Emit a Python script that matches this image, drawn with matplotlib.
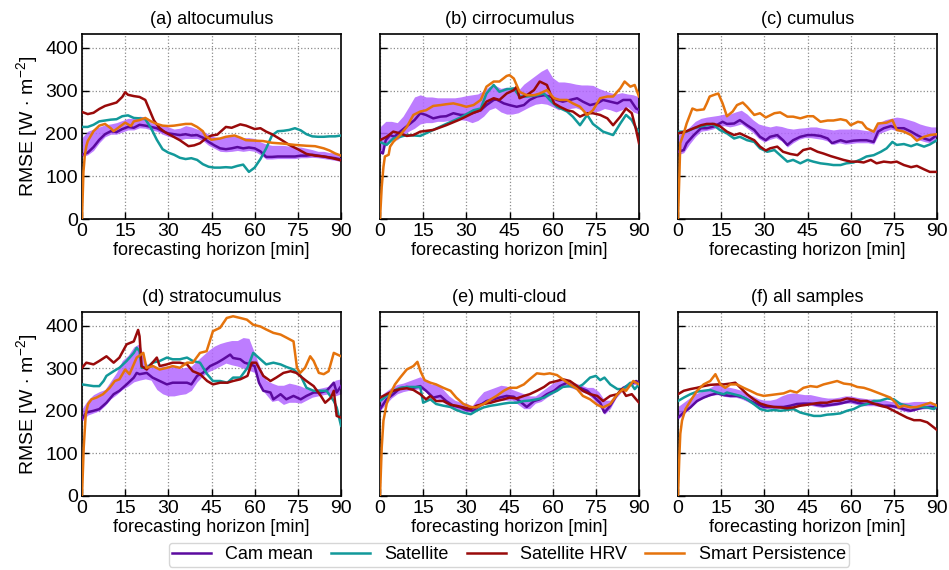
import numpy as np
import matplotlib
matplotlib.use("Agg")
import matplotlib.pyplot as plt
from matplotlib.lines import Line2D

plt.rcParams['font.family'] = ['Liberation Sans', 'DejaVu Sans']
plt.rcParams['mathtext.fontset'] = 'custom'
plt.rcParams['mathtext.rm'] = 'Liberation Sans'
plt.rcParams['mathtext.it'] = 'Liberation Sans:italic'

# ---------------------------------------------------------------- data (RMSE in W m^-2, horizon in minutes)
series_labels = ["Cam mean", "Satellite", "Satellite HRV", "Smart Persistence"]
panel_titles = ["(a) altocumulus", "(b) cirrocumulus", "(c) cumulus",
                "(d) stratocumulus", "(e) multi-cloud", "(f) all samples"]
x_ticks = [0, 15, 30, 45, 60, 75, 90]
y_ticks = [0, 100, 200, 300, 400]

# horizons of the camera-ensemble spread (min / max of the camera models)
band_t = [0, 2, 4, 6, 8, 10, 12, 14, 16, 18, 20, 22, 24, 26, 28, 30, 32, 34, 36, 38, 40, 42, 44,
          46, 48, 50, 52, 54, 56, 58, 60, 62, 64, 66, 68, 70, 72, 74, 76, 78, 80, 82, 84, 86, 88, 90]

# (a) altocumulus
alto_cam_t = band_t
alto_cam = [150, 155, 168, 185, 198, 205, 203, 210, 215, 213, 220, 218, 215, 212, 205, 200, 198, 196, 198, 195,
            196, 190, 180, 172, 165, 163, 165, 168, 165, 167, 165, 158, 145, 145, 146, 146, 146, 146, 148, 148,
            150, 148, 146, 144, 142, 139]
alto_lo = [145, 150, 160, 178, 192, 198, 198, 203, 208, 208, 213, 212, 208, 205, 198, 193, 190, 185, 188, 188,
           188, 183, 172, 165, 158, 157, 158, 160, 158, 160, 158, 150, 140, 140, 141, 141, 141, 141, 143, 143,
           144, 143, 141, 139, 137, 134]
alto_hi = [190, 205, 210, 215, 220, 222, 225, 230, 235, 235, 240, 238, 225, 222, 220, 215, 210, 212, 218, 215,
           210, 205, 198, 192, 190, 195, 195, 193, 190, 190, 188, 180, 175, 172, 172, 172, 170, 168, 168, 165,
           162, 158, 158, 155, 155, 150]
alto_sat_t = band_t
alto_sat = [215, 215, 220, 228, 230, 232, 233, 240, 242, 236, 235, 233, 212, 185, 163, 155, 150, 143, 140, 142,
            138, 128, 122, 120, 120, 121, 120, 124, 127, 110, 120, 140, 165, 195, 205, 206, 208, 212, 207, 198,
            193, 192, 192, 193, 193, 195]
alto_hrv_t = [0, 2, 4, 6, 8, 10, 12, 14, 15, 16, 18, 20, 22, 23, 25, 27, 29, 31, 34, 37, 39, 41, 43, 45, 47,
              50, 52, 55, 57, 60, 62, 64, 66, 69, 72, 75, 78, 81, 84, 87, 90]
alto_hrv = [250, 245, 248, 257, 264, 268, 272, 285, 296, 290, 287, 285, 278, 262, 230, 212, 202, 195, 184, 170,
            172, 177, 188, 195, 197, 215, 213, 221, 218, 210, 212, 204, 198, 186, 173, 163, 152, 148, 146, 142, 137]
alto_sp_t = [0, 0.5, 1, 1.5, 2, 4, 6, 8, 10, 11, 13, 15, 17, 18, 20, 22, 24, 26, 28, 30, 32, 34, 36, 38, 40,
             42, 43, 45, 48, 50, 53, 55, 57, 60, 63, 66, 70, 74, 78, 81, 84, 86, 88, 90]
alto_sp = [0, 110, 150, 170, 182, 205, 218, 222, 212, 205, 215, 225, 217, 228, 231, 236, 228, 222, 218, 217,
           218, 220, 222, 222, 215, 205, 193, 185, 188, 192, 195, 190, 184, 183, 182, 178, 176, 173, 171, 170,
           165, 160, 153, 148]

# (b) cirrocumulus
cirro_cam_t = [0, 1, 2, 3.5, 5, 7, 9, 12, 14, 16, 18.5, 21, 23, 25.5, 28, 30, 32.5, 35, 37, 39.5, 40.5, 43, 45,
               47.5, 50, 52, 54.5, 57, 59, 61.5, 63.5, 66, 68.5, 70.5, 73, 75.5, 77.5, 80, 82.5, 84.5, 87, 89, 90]
cirro_cam = [157, 153, 184, 196, 192, 204, 215, 231, 247, 243, 235, 239, 240, 247, 243, 243, 248, 254, 266, 278,
             279, 270, 266, 262, 266, 278, 286, 289, 286, 278, 274, 278, 282, 274, 266, 270, 278, 274, 270, 278,
             278, 258, 255]
cirro_lo = [150, 175, 185, 185, 195, 205, 212, 222, 225, 225, 228, 228, 230, 232, 232, 230, 225, 230, 240, 255,
            260, 250, 245, 245, 248, 255, 262, 268, 270, 268, 262, 255, 258, 258, 260, 255, 250, 250, 252, 258,
            255, 250, 255, 262, 250, 245]
cirro_hi = [215, 228, 228, 225, 240, 262, 285, 290, 285, 285, 283, 283, 283, 283, 285, 288, 290, 292, 300, 310,
            312, 305, 308, 305, 300, 315, 325, 335, 345, 352, 330, 320, 320, 318, 315, 313, 313, 312, 305, 300,
            295, 292, 295, 292, 290, 285]
cirro_sat_t = [0, 2.3, 4.6, 9.3, 14, 18.5, 23, 28, 32.5, 35, 37, 39.5, 41.5, 44, 46.5, 48.5, 51, 54.5, 57, 59,
               61.5, 65, 67, 69.5, 72, 74, 77.5, 81, 83.5, 85.5, 87.5, 89, 90]
cirro_sat = [180, 173, 188, 196, 194, 208, 222, 237, 254, 258, 293, 313, 297, 303, 305, 286, 286, 289, 293, 278,
             262, 251, 239, 219, 243, 222, 204, 196, 223, 243, 231, 212, 205]
cirro_hrv_t = [0, 2.3, 4.6, 7, 9.3, 11.6, 14, 18.5, 23, 28, 32.5, 35, 37, 39.5, 41.5, 44, 46.5, 47.5, 48.5, 51,
               53.5, 55.5, 58, 60.5, 62.5, 65, 67, 69.5, 72, 74, 76.5, 79, 81, 83.5, 85.5, 87.5, 89, 90]
cirro_hrv = [184, 192, 204, 200, 194, 196, 204, 208, 219, 233, 248, 254, 274, 282, 278, 293, 301, 309, 282, 289,
             301, 321, 313, 270, 262, 254, 251, 239, 247, 247, 243, 235, 219, 239, 258, 247, 208, 177]
cirro_sp_t = [0, 0.6, 1.2, 1.7, 3, 3.5, 4.6, 7, 9.3, 11.6, 14, 16, 18.5, 21, 23, 25.5, 28, 30, 32.5, 35, 37,
              39.5, 41.5, 44, 45, 46.5, 48.5, 51, 53.5, 55.5, 58, 60.5, 62.5, 65, 67, 69.5, 72, 74, 76.5, 79,
              81, 83.5, 85, 87, 88.5, 90]
cirro_sp = [0, 75, 122, 146, 150, 169, 180, 196, 215, 243, 251, 254, 264, 266, 268, 270, 266, 262, 266, 278,
            309, 321, 321, 334, 336, 328, 297, 289, 289, 293, 301, 282, 278, 278, 270, 262, 243, 254, 282, 286,
            286, 305, 321, 309, 313, 286]

# (c) cumulus
cumu_cam_t = [0, 2, 3, 5.5, 8, 10, 12.5, 15.5, 17, 19.5, 21.5, 24, 26.5, 28.5, 30.5, 32, 34.5, 36.5, 38, 40,
              42.5, 45, 47, 49.5, 52, 53.5, 56.5, 58.5, 61, 63.5, 65.5, 68, 69.5, 71.5, 74, 76, 78.5, 81, 83,
              85.5, 87.5, 90]
cumu_cam = [157, 161, 177, 196, 212, 212, 216, 227, 222, 223, 231, 219, 208, 192, 184, 192, 196, 184, 173, 184,
            192, 196, 196, 194, 188, 177, 184, 180, 183, 184, 184, 180, 204, 212, 217, 212, 212, 204, 196, 188,
            184, 196]
cumu_lo = [150, 155, 175, 192, 205, 207, 210, 215, 218, 215, 218, 222, 212, 202, 188, 180, 186, 190, 182, 168,
           178, 186, 190, 190, 188, 186, 182, 174, 178, 175, 176, 178, 178, 178, 175, 200, 205, 210, 206, 206,
           198, 190, 184, 180, 178, 185]
cumu_hi = [195, 205, 215, 228, 235, 238, 240, 242, 245, 245, 250, 254, 245, 232, 222, 218, 215, 218, 216, 212,
           210, 212, 213, 215, 215, 212, 210, 208, 210, 210, 210, 210, 208, 206, 208, 225, 232, 235, 238, 236,
           232, 228, 222, 218, 215, 215]
cumu_sat_t = [0, 3, 5.5, 8, 10, 12, 14.5, 17, 19.5, 21.5, 24, 26.5, 28.5, 31, 33.5, 35.5, 38, 40, 42.5, 45,
              47, 49.5, 52, 54, 56.5, 58.5, 61, 63.5, 65.5, 68, 70.5, 72.5, 74.5, 76, 78.5, 81, 83, 85.5, 87.5, 90]
cumu_sat = [204, 204, 212, 216, 219, 222, 208, 200, 188, 192, 184, 180, 165, 157, 161, 149, 134, 138, 130, 138,
            134, 130, 128, 126, 126, 130, 132, 139, 146, 149, 157, 165, 180, 173, 175, 170, 175, 169, 174, 184]
cumu_hrv_t = [0, 3, 5.5, 8, 10, 12.5, 14.5, 17, 19.5, 21.5, 24, 26.5, 28.5, 30.5, 32, 34.5, 36.5, 39, 41.5,
              43.5, 46, 48.5, 50.5, 53, 55.5, 57.5, 60, 62.5, 64.5, 67, 69, 71.5, 74, 76, 78.5, 81, 83, 85.5,
              87.5, 90]
cumu_hrv = [200, 205, 212, 219, 222, 222, 217, 204, 196, 200, 192, 184, 169, 160, 165, 169, 157, 152, 149, 161,
            165, 157, 153, 147, 142, 138, 134, 134, 132, 138, 130, 134, 132, 134, 126, 121, 124, 116, 110, 110]
cumu_sp_t = [0, 0.5, 0.8, 2, 3, 5, 6.5, 9, 10, 11, 13, 14, 15.5, 17, 19, 20.5, 22.5, 24, 26.5, 28.5, 30.5,
             33.5, 35.5, 38, 40, 42.5, 45, 47, 49.5, 52, 54, 56.5, 58.5, 60, 62.5, 64, 65.5, 68, 69.5, 72.5,
             74.5, 76, 78.5, 81, 83, 85.5, 87.5, 90]
cumu_sp = [0, 107, 177, 200, 223, 258, 254, 256, 270, 286, 291, 293, 270, 240, 251, 266, 272, 262, 243, 247,
           237, 247, 249, 239, 239, 235, 240, 240, 227, 230, 230, 233, 230, 219, 227, 225, 212, 204, 223, 225,
           231, 208, 204, 196, 183, 192, 196, 198]

# (d) stratocumulus
strato_cam_t = [0, 1.5, 4, 6, 8.5, 11, 13, 15.5, 18, 19, 20, 22.5, 24.5, 27, 29.5, 31.5, 34, 36.5, 38, 40, 42,
                44.5, 47, 49, 51.5, 52.5, 55, 56.5, 58.5, 60, 61.5, 63, 65.5, 66.5, 69, 71, 73.5, 76, 78, 80.5,
                83, 85, 87.5, 88.5, 90]
strato_cam = [181, 196, 200, 204, 219, 239, 247, 262, 278, 289, 286, 289, 278, 270, 262, 266, 266, 266, 262, 282,
              289, 305, 313, 321, 332, 324, 321, 313, 309, 305, 266, 247, 243, 227, 239, 227, 235, 227, 235, 243,
              243, 247, 266, 243, 258]
strato_lo = [175, 190, 195, 200, 212, 228, 238, 250, 258, 268, 272, 275, 272, 250, 240, 235, 235, 238, 240, 248,
             268, 282, 292, 298, 305, 312, 308, 305, 300, 295, 290, 255, 238, 222, 225, 215, 220, 220, 218, 225,
             232, 235, 238, 240, 235, 240]
strato_hi = [205, 225, 238, 245, 250, 270, 290, 318, 330, 350, 358, 312, 305, 300, 305, 305, 305, 300, 302, 305,
             318, 330, 342, 352, 358, 362, 365, 365, 372, 370, 335, 300, 272, 265, 260, 260, 265, 262, 258, 252,
             250, 252, 255, 258, 272, 275]
strato_sat_t = [0, 4, 6, 7.5, 8.5, 11, 13, 15.5, 18, 19, 20, 20.7, 22.5, 24.5, 27, 29.5, 31.5, 34, 36.5, 38.5,
                41, 43.5, 45.5, 48, 50.5, 52.5, 55, 57.5, 59.5, 62, 64, 66.5, 69, 71, 73.5, 76, 78, 80.5, 83, 85,
                87.5, 88.5, 90]
strato_sat = [262, 258, 258, 270, 282, 293, 301, 317, 336, 348, 340, 301, 301, 313, 317, 325, 321, 321, 325, 317,
              313, 286, 270, 270, 266, 278, 278, 301, 336, 321, 309, 313, 309, 303, 297, 282, 254, 247, 247, 247,
              223, 208, 165]
strato_hrv_t = [0, 1.5, 4, 6, 8.5, 11, 13, 15.5, 18, 19.5, 20, 20.7, 22.5, 24.5, 26, 27, 29.5, 31.5, 34, 36.5,
                38.5, 41, 43.5, 45.5, 48, 50.5, 52.5, 55, 57.5, 59, 60.5, 63, 65.5, 67.5, 70, 72.5, 74.5, 76.5,
                78, 80.5, 83, 84.5, 86.5, 87.5, 88.5, 90]
strato_hrv = [301, 313, 309, 317, 328, 313, 325, 356, 363, 390, 375, 305, 297, 313, 325, 305, 309, 313, 313, 309,
              293, 286, 270, 262, 266, 266, 270, 274, 282, 313, 313, 282, 270, 278, 289, 293, 289, 278, 270, 258,
              235, 219, 231, 247, 188, 184]
strato_sp_t = [0, 0.6, 1.3, 2.1, 3.3, 5, 7.3, 9.6, 11.4, 13, 15, 16.5, 19, 21.3, 22.4, 24.7, 27, 29.5, 31.5,
               34, 36.5, 38.5, 41, 43.3, 45.5, 48, 50.3, 52.5, 55, 57.3, 59.5, 62, 64, 66.5, 69, 71, 73.5, 74.7,
               75.8, 77.5, 79.3, 80.5, 82.3, 84, 85.7, 87.5, 90]
strato_sp = [0, 114, 192, 216, 227, 231, 239, 254, 270, 274, 297, 286, 325, 336, 301, 305, 297, 301, 305, 301,
             313, 313, 336, 340, 387, 395, 418, 422, 418, 414, 402, 398, 391, 383, 379, 372, 363, 301, 289, 301,
             328, 317, 289, 286, 293, 336, 328]

# (e) multi-cloud
multi_cam_t = [0, 2.3, 4.6, 7, 9.3, 11.6, 14, 16, 18.5, 21, 23, 25.5, 28, 30, 32.5, 35, 37, 39.5, 41.5, 44,
               46.5, 48.5, 51, 53.5, 55.5, 58, 60.5, 62.5, 65, 67, 69.5, 72, 74, 76.5, 78, 80, 82.5, 84.5, 87,
               89, 90]
multi_cam = [204, 227, 239, 253, 256, 254, 258, 247, 231, 235, 223, 212, 208, 202, 200, 214, 223, 227, 231, 235,
             233, 223, 209, 223, 227, 239, 247, 258, 266, 258, 254, 247, 235, 219, 196, 212, 239, 254, 262, 270,
             266]
multi_lo = [200, 215, 230, 240, 245, 248, 250, 252, 245, 228, 228, 220, 210, 205, 202, 198, 197, 205, 215, 220,
            222, 225, 225, 225, 215, 205, 205, 218, 222, 232, 240, 250, 258, 255, 250, 245, 240, 228, 212, 192,
            205, 230, 245, 255, 262, 260]
multi_hi = [235, 245, 255, 262, 265, 270, 275, 280, 270, 262, 262, 250, 235, 225, 220, 218, 212, 230, 245, 250,
            255, 260, 258, 250, 245, 240, 235, 235, 245, 255, 265, 270, 275, 270, 265, 260, 255, 255, 245, 225,
            225, 240, 255, 265, 272, 270]
multi_sat_t = [0, 2.3, 4.6, 7, 9.3, 11.6, 14, 15, 17.5, 19.5, 22, 24.5, 26.5, 29, 31.5, 33.5, 36, 38.5, 40.5,
               43, 45, 47.5, 50, 52, 54.5, 57, 59, 61.5, 63.5, 66, 68.5, 70.5, 73, 75, 76.5, 78, 80, 82.5, 84.5,
               87, 88.5, 90]
multi_sat = [223, 235, 247, 254, 256, 256, 256, 219, 227, 216, 212, 209, 202, 196, 192, 200, 208, 212, 214, 217,
             219, 219, 223, 224, 227, 231, 239, 247, 256, 258, 254, 262, 278, 282, 272, 278, 262, 251, 251, 266,
             251, 262]
multi_hrv_t = [0, 2.3, 4.6, 7, 9.3, 11.6, 14, 16, 17.5, 19.5, 22, 24.5, 26.5, 29, 31.5, 33.5, 36, 38.5, 40.5,
               43, 45, 47.5, 50, 52, 54.5, 57, 59, 61.5, 63.5, 66, 68.5, 70.5, 73, 75.5, 77.5, 80, 82.5, 84, 85.5,
               87.5, 90]
multi_hrv = [231, 239, 247, 251, 253, 249, 239, 227, 235, 223, 223, 214, 212, 208, 204, 212, 216, 219, 223, 227,
             231, 229, 235, 239, 247, 256, 266, 270, 274, 270, 258, 247, 239, 235, 223, 235, 239, 251, 235, 239,
             219]
multi_sp_t = [0, 0.6, 1.2, 2.3, 3.5, 5.2, 7, 9.3, 11.6, 13, 14, 15.5, 17.5, 19.5, 22, 24.5, 26.5, 29, 31.5,
              33.5, 36, 38.5, 40.5, 43, 45, 47.5, 50, 52, 54.5, 57, 59, 61.5, 63.5, 66, 68.5, 70.5, 73, 75.5,
              77.5, 80, 82.5, 84.5, 85.5, 88, 90]
multi_sp = [0, 114, 177, 216, 239, 262, 278, 297, 305, 315, 294, 272, 266, 262, 254, 247, 231, 216, 209, 208,
            216, 227, 235, 247, 254, 254, 262, 274, 288, 286, 288, 284, 274, 262, 251, 235, 227, 214, 208, 216,
            239, 251, 247, 270, 262]

# (f) all samples
all_cam_t = [0, 2, 4.3, 6.6, 8.9, 11.2, 13.6, 15.9, 18.2, 20.5, 22.8, 25.1, 27.5, 29.8, 32.1, 34.4, 36.7, 39,
             41.3, 43.6, 46, 48.3, 50.6, 53, 55.3, 57.6, 60, 62.3, 64.6, 66.9, 69.2, 71.5, 73.8, 76.1, 78.4,
             80.8, 83, 85.4, 87.7, 90]
all_cam = [184, 196, 208, 223, 231, 237, 241, 237, 235, 235, 231, 223, 216, 209, 209, 209, 209, 212, 216, 217,
           217, 214, 212, 214, 216, 219, 223, 219, 216, 217, 216, 212, 212, 209, 204, 200, 204, 208, 209, 208]
all_lo = [180, 192, 205, 218, 228, 233, 237, 238, 234, 232, 232, 228, 222, 215, 208, 205, 205, 205, 205, 208,
          212, 212, 213, 213, 210, 208, 210, 212, 214, 218, 218, 215, 212, 212, 212, 210, 208, 208, 205, 200,
          197, 200, 204, 205, 205, 203]
all_hi = [210, 220, 230, 240, 245, 250, 258, 265, 258, 255, 252, 248, 240, 235, 228, 225, 225, 228, 235, 240,
          242, 240, 238, 238, 235, 232, 230, 230, 232, 235, 235, 232, 230, 228, 228, 225, 225, 222, 222, 220,
          220, 222, 222, 222, 220, 218]
all_sat_t = [0, 2, 4.3, 6.6, 8.9, 11.2, 13.6, 15.9, 17, 19.3, 21.7, 24, 26.3, 28.6, 31, 33.3, 35.6, 37.9, 40.2,
             42.5, 44.8, 47.2, 49.5, 51.8, 54, 56.4, 58.7, 61, 63.4, 65.7, 68, 70.3, 72.7, 75, 77.3, 79.6, 82,
             84.2, 86.6, 88.9, 90]
all_sat = [223, 231, 239, 245, 247, 249, 243, 239, 243, 239, 235, 227, 216, 204, 200, 202, 200, 202, 204, 196,
           192, 188, 188, 191, 192, 194, 200, 204, 212, 216, 223, 224, 229, 227, 216, 212, 208, 209, 208, 204, 212]
all_hrv_t = [0, 2, 4.3, 6.6, 8.9, 11.2, 13.6, 15.9, 18.2, 19.9, 21.7, 24, 26.3, 28.6, 31, 33.3, 35.6, 37.9,
             40.2, 42.5, 44.8, 47.2, 49.5, 51.8, 54, 56.4, 58.7, 61, 63.4, 65.7, 68, 70.3, 72.7, 75, 77.3, 79.6,
             82, 84.2, 86.6, 88.9, 90]
all_hrv = [239, 247, 251, 254, 258, 261, 262, 262, 264, 266, 254, 239, 227, 217, 212, 209, 208, 206, 208, 212,
           214, 217, 219, 219, 223, 224, 229, 227, 223, 223, 217, 212, 208, 200, 192, 184, 178, 178, 173, 161, 155]
all_sp_t = [0, 0.5, 0.8, 1.4, 2.6, 4.3, 6.6, 8.9, 11.2, 13, 14.7, 16.4, 18.2, 20.5, 22.8, 25.1, 27.5, 29.8,
            32.1, 34.4, 36.7, 39, 41.3, 43.6, 46, 48.3, 50.6, 53, 55.3, 57.6, 60, 62.3, 64.6, 66.9, 69.2, 71.5,
            73.8, 75.6, 76.7, 78.4, 80.8, 83, 85.4, 87.7, 90]
all_sp = [0, 99, 146, 177, 204, 223, 247, 262, 270, 286, 262, 254, 262, 262, 254, 247, 239, 235, 237, 239,
          241, 247, 243, 254, 258, 256, 262, 266, 270, 264, 262, 256, 254, 249, 243, 237, 231, 219, 208, 212,
          208, 209, 214, 219, 212]

# ---------------------------------------------------------------- styling
colors = {"cam": "#5b0a9f", "sat": "#12999a", "hrv": "#990a0a", "sp": "#e5730c"}
band_color = "#b266ff"
lw = 1.8
fs = 13
tick_fs = 14

panels = [
    (alto_cam_t, alto_cam, alto_lo, alto_hi, alto_sat_t, alto_sat, alto_hrv_t, alto_hrv, alto_sp_t, alto_sp),
    (cirro_cam_t, cirro_cam, cirro_lo, cirro_hi, cirro_sat_t, cirro_sat, cirro_hrv_t, cirro_hrv, cirro_sp_t, cirro_sp),
    (cumu_cam_t, cumu_cam, cumu_lo, cumu_hi, cumu_sat_t, cumu_sat, cumu_hrv_t, cumu_hrv, cumu_sp_t, cumu_sp),
    (strato_cam_t, strato_cam, strato_lo, strato_hi, strato_sat_t, strato_sat, strato_hrv_t, strato_hrv,
     strato_sp_t, strato_sp),
    (multi_cam_t, multi_cam, multi_lo, multi_hi, multi_sat_t, multi_sat, multi_hrv_t, multi_hrv, multi_sp_t, multi_sp),
    (all_cam_t, all_cam, all_lo, all_hi, all_sat_t, all_sat, all_hrv_t, all_hrv, all_sp_t, all_sp),
]

W, H = 949, 570
fig = plt.figure(figsize=(W / 100, H / 100), dpi=100)
col_left = [82, 380, 678]
ax_w = 259
row_span = [(34, 219), (312, 496)]

for i, (title, data) in enumerate(zip(panel_titles, panels)):
    r, c = divmod(i, 3)
    top, bot = row_span[r]
    ax = fig.add_axes([col_left[c] / W, 1 - bot / H, ax_w / W, (bot - top) / H])
    ct, cy, lo, hi, st, sy, ht, hy, pt, py = data
    ax.fill_between(band_t, lo, hi, color=band_color, alpha=0.85, lw=0, zorder=2)
    ax.plot(ct, cy, color=colors["cam"], lw=lw, zorder=3)
    ax.plot(st, sy, color=colors["sat"], lw=lw, zorder=3)
    ax.plot(ht, hy, color=colors["hrv"], lw=lw, zorder=3)
    ax.plot(pt, py, color=colors["sp"], lw=lw, zorder=3)

    ax.set_xlim(0, 90)
    ax.set_ylim(0, 432)
    ax.set_xticks(x_ticks)
    ax.set_yticks(y_ticks)
    ax.grid(True, linestyle=':', color='#8c8c8c', lw=0.9, zorder=0)
    ax.set_axisbelow(True)
    ax.tick_params(direction='in', length=5, width=1, labelsize=tick_fs, pad=3)
    for s in ax.spines.values():
        s.set_linewidth(1.2)
    ax.set_title(title, fontsize=fs, pad=7)
    ax.set_xlabel("forecasting horizon [min]", fontsize=fs, labelpad=1.5)
    if c == 0:
        ax.set_ylabel("RMSE [W$\\,\\cdot\\,$m$^{-2}$]", fontsize=tick_fs, labelpad=4)
    else:
        ax.set_yticklabels([])

handles = [Line2D([], [], color=colors[k], lw=lw) for k in ("cam", "sat", "hrv", "sp")]
fig.legend(handles, series_labels, loc='lower center', bbox_to_anchor=(509 / W, 0.002), ncol=4,
           fontsize=fs, frameon=True, fancybox=True, edgecolor='#cccccc', borderpad=0.2,
           handlelength=2.15, handletextpad=0.8, columnspacing=1.0, borderaxespad=0.1)

fig.savefig("out.png", dpi=100)
